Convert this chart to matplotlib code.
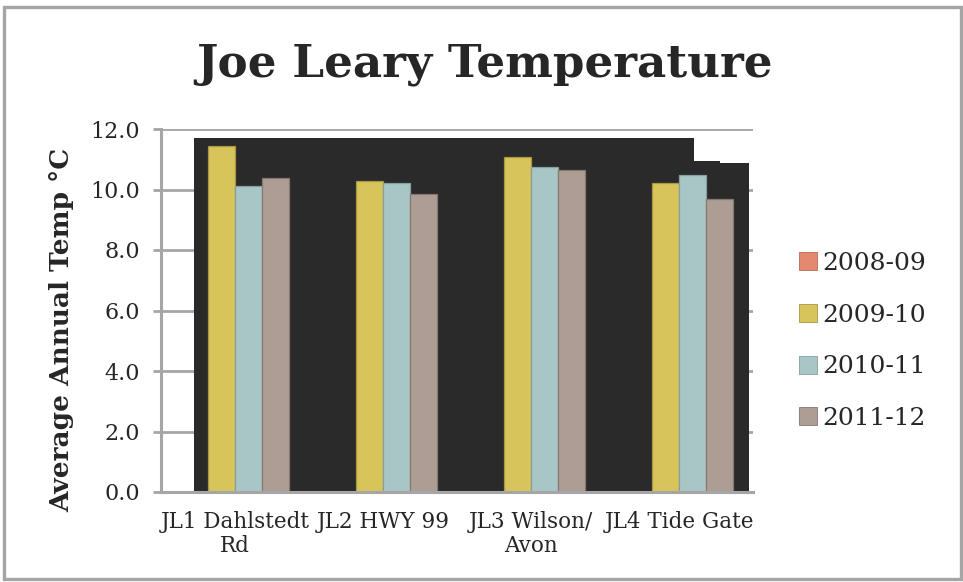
import matplotlib
matplotlib.use("Agg")
import matplotlib.pyplot as plt
import numpy as np
from matplotlib.patches import Patch, Rectangle

# Sites (x categories) and annual mean temperatures per water year
sites = ["JL1 Dahlstedt\nRd", "JL2 HWY 99", "JL3 Wilson/\nAvon", "JL4 Tide Gate"]
seasons = ["2008-09", "2009-10", "2010-11", "2011-12"]
temp_2008_09 = [np.nan, np.nan, np.nan, np.nan]
temp_2009_10 = [11.44, 10.29, 11.09, 10.20]
temp_2010_11 = [10.12, 10.20, 10.73, 10.48]
temp_2011_12 = [10.37, 9.85, 10.64, 9.68]
series = [temp_2008_09, temp_2009_10, temp_2010_11, temp_2011_12]
colors = ["#E4896F", "#D7C45B", "#A9C6C7", "#AD9D94"]
edge_colors = ["#B86A55", "#A89840", "#869E9F", "#877870"]

# Dark backdrop panel behind the bars (step outline, in category / data units)
backdrop_edges = [-0.277, 3.10, 3.28, 3.47]
backdrop_tops = [11.70, 10.94, 10.87]

yticks = [0, 2, 4, 6, 8, 10, 12]

W, H = 963, 582
fig = plt.figure(figsize=(W / 100, H / 100), dpi=100)
fig.patch.set_facecolor("white")

# outer frame
fig.add_artist(Rectangle((4 / W, 3 / H), (957 / W), (572 / H), transform=fig.transFigure,
                         fill=False, edgecolor="#A5A5A5", linewidth=2.4, zorder=10))

ax = fig.add_axes([161 / W, 1 - 492 / H, 592 / W, 363 / H])
ax.set_xlim(-0.5, 3.5)
ax.set_ylim(0, 12)

gray = "#A6A6A6"
ax.set_axisbelow(True)
ax.yaxis.grid(True, color=gray, linewidth=2.0, zorder=0)

ax.stairs(backdrop_tops, backdrop_edges, baseline=0, fill=True,
          color="#2A2A2A", zorder=1)

x = np.arange(len(sites))
bw = 27 / 148
for i, vals in enumerate(series):
    offs = (i - 1.5) * bw
    ax.bar(x + offs, vals, width=bw, color=colors[i], edgecolor=edge_colors[i],
           linewidth=0.9, zorder=2, label=seasons[i])

for s in ["top", "right"]:
    ax.spines[s].set_visible(False)
for s in ["left", "bottom"]:
    ax.spines[s].set_color(gray)
    ax.spines[s].set_linewidth(2.2)

serif = "DejaVu Serif"
ax.set_yticks(yticks)
ax.set_yticklabels([f"{v:.1f}" for v in yticks], fontfamily=serif, fontsize=16, color="#262626")
ax.tick_params(axis="y", length=6, width=2, color=gray, pad=9)
ax.set_xticks(x)
ax.set_xticklabels(sites, fontfamily=serif, fontsize=15.5, color="#262626", linespacing=1.1)
ax.tick_params(axis="x", length=0, pad=14)

fig.text(62 / W, 1 - 330 / H, "Average Annual Temp °C", rotation=90, ha="center", va="center",
         fontfamily=serif, fontweight="bold", fontsize=19, color="#262626")

fig.text(484 / W, 1 - 64 / H, "Joe Leary Temperature", ha="center", va="center",
         fontfamily=serif, fontweight="bold", fontsize=32.6, color="#262626")

handles = [Patch(facecolor=colors[i], edgecolor=edge_colors[i], linewidth=0.6) for i in range(4)]
fig.legend(handles, seasons, loc="center left", bbox_to_anchor=(799 / W, 1 - 341 / H),
           frameon=False, prop={"family": serif, "size": 18},
           handlelength=0.72, handleheight=0.72, handletextpad=0.2,
           labelspacing=1.15, borderpad=0, borderaxespad=0, labelcolor="#262626")

fig.savefig("out.png", dpi=100, facecolor="white")
